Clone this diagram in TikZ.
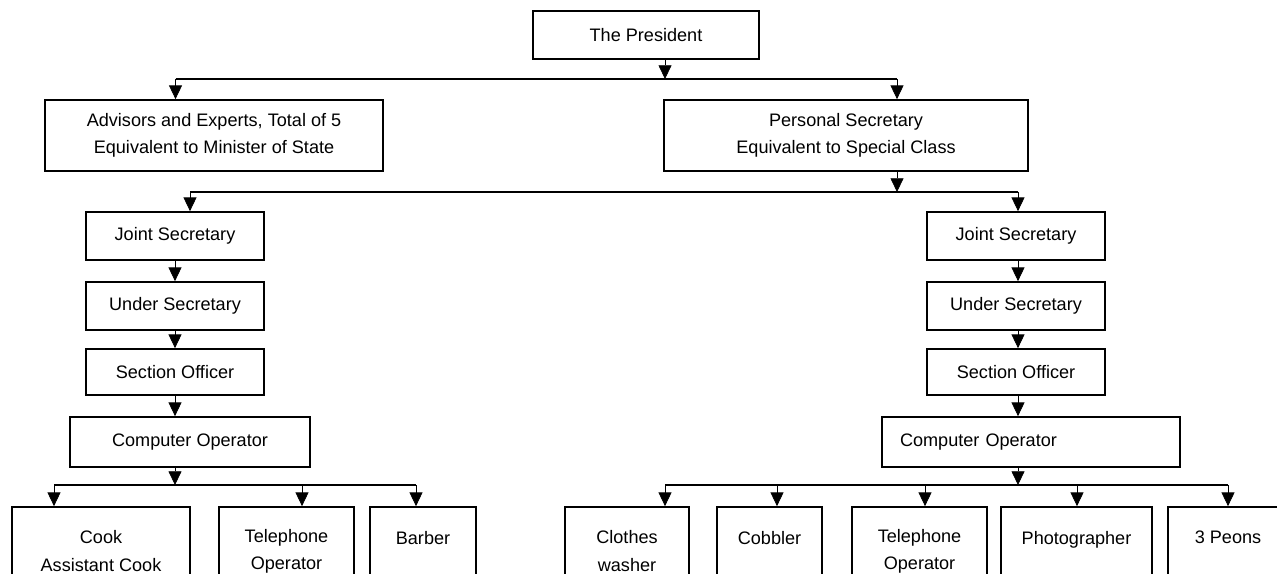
\documentclass[tikz,border=0pt]{standalone}
\usepackage{fontspec}
\setmainfont{Liberation Sans}
\usetikzlibrary{arrows.meta}

\begin{document}
\begin{tikzpicture}[->,>={Triangle[length=7.8pt,width=7.4pt]},x=0.02cm,y=-0.02cm]
    \tikzstyle{every node}=[draw,rectangle,line width=1pt,inner sep=0pt,align=center,font=\fontsize{10.3}{15.4}\selectfont];
    \tikzstyle{post}=[minimum width=3.56cm,minimum height=0.96cm];
    \tikzstyle{staff}=[minimum height=1.76cm];
    \tikzstyle{bus}=[-,line width=1pt];
    \useasboundingbox (0,0) rectangle (1277,574);
    \clip (0,0) rectangle (1277,574);

    \node at (646,35)     (pres) [minimum width=4.52cm,minimum height=0.96cm] {The President};
    \node at (214,135.5)  (adv)  [minimum width=6.76cm,minimum height=1.42cm] {Advisors and Experts, Total of 5\\Equivalent to Minister of State};
    \node at (846,135.5)  (ps)   [minimum width=7.28cm,minimum height=1.42cm] {Personal Secretary\\Equivalent to Special Class};

    \node at (175,236)    (js1) [post] {Joint Secretary};
    \node at (175,306)    (us1) [post] {Under Secretary};
    \node at (175,372)    (so1) [post,minimum height=0.92cm] {Section Officer};
    \node at (190,442)    (co1) [minimum width=4.8cm,minimum height=1cm] {Computer Operator};

    \node at (1016,236)   (js2) [post] {Joint Secretary};
    \node at (1016,306)   (us2) [post] {Under Secretary};
    \node at (1016,372)   (so2) [post,minimum height=0.92cm] {Section Officer};
    \node at (1031,442)   (co2) [minimum height=1cm,inner xsep=0.36cm,text width=5.24cm,align=left] {Computer Operator};

    \node at (101,551)    (cook)    [staff,minimum width=3.56cm] {Cook\\Assistant Cook};
    \node at (286.5,551)  (tel1)    [staff,minimum width=2.7cm] {Telephone\\Operator};
    \node at (423,551)    (barber)  [staff,minimum width=2.12cm] {Barber\\~};
    \node at (627,551)    (washer)  [staff,minimum width=2.48cm] {Clothes\\washer};
    \node at (769.5,551)  (cobbler) [staff,minimum width=2.1cm] {Cobbler\\~};
    \node at (919.5,551)  (tel2)    [staff,minimum width=2.7cm] {Telephone\\Operator};
    \node at (1076.5,551) (photo)   [staff,minimum width=3.02cm] {Photographer\\~};
    \node at (1228,551)   (peons)   [staff,minimum width=2.4cm] {3 Peons\\~};

    \coordinate (top)  at (665,79);
    \coordinate (topl) at (175.5,79);
    \coordinate (topr) at (897,79);
    \coordinate (mid)  at (897,192);
    \coordinate (midl) at (190,192);
    \coordinate (midr) at (1018,192);
    \coordinate (lowl) at (175,485);
    \coordinate (lowr) at (1018,485);
    \foreach \n/\x in {cook/54,tel1/302,barber/416,washer/665,cobbler/777,tel2/925,photo/1077,peons/1228}
      \coordinate (\n-in) at (\x,485);

    \draw (pres.south -| top) to (top);
    \draw[bus] (topl) to (topr);
    \draw (topl) to (adv.north -| topl);
    \draw (topr) to (ps.north -| topr);
    \draw (ps.south -| mid) to (mid);
    \draw[bus] (midl) to (midr);
    \draw (midl) to (js1.north -| midl);
    \draw (midr) to (js2.north -| midr);

    \draw (js1) to (us1);
    \draw (us1) to (so1);
    \draw (so1) to (co1.north -| so1);
    \draw (co1.south -| lowl) to (lowl);
    \draw (js2.south -| midr) to (us2.north -| midr);
    \draw (us2.south -| midr) to (so2.north -| midr);
    \draw (so2.south -| midr) to (co2.north -| midr);
    \draw (co2.south -| lowr) to (lowr);

    \draw[bus] (cook-in) to (barber-in);
    \draw[bus] (washer-in) to (peons-in);
    \foreach \n in {cook,tel1,barber,washer,cobbler,tel2,photo,peons}
      \draw (\n-in) to (\n.north -| \n-in);
\end{tikzpicture}
\end{document}
